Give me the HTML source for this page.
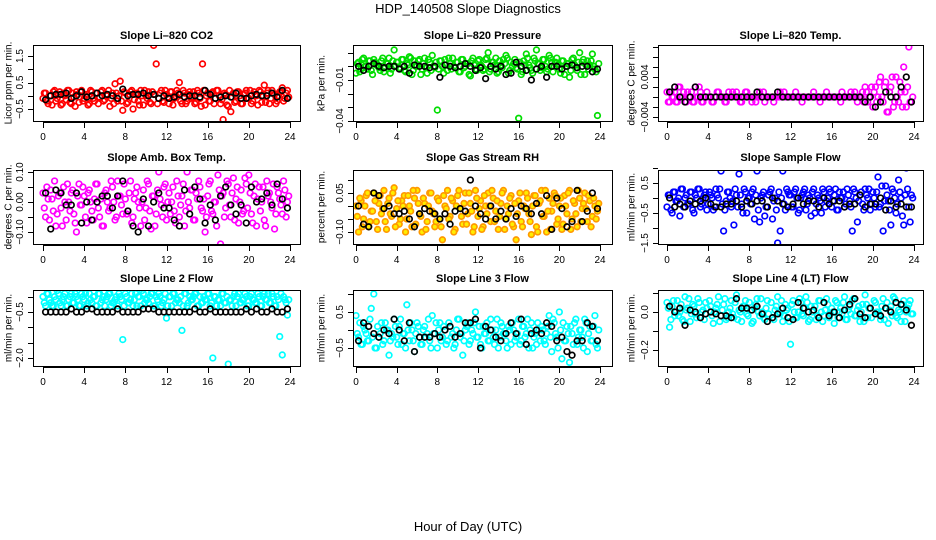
<!DOCTYPE html>
<html><head><meta charset="utf-8"><style>
html,body{margin:0;padding:0;background:#fff;}
svg{display:block;font-family:"Liberation Sans",sans-serif;}
</style></head><body>
<svg id="chart" width="936" height="540" viewBox="0 0 936 540" xmlns="http://www.w3.org/2000/svg">
<text x="468" y="13" font-size="13" text-anchor="middle">HDP_140508  Slope Diagnostics</text>
<text x="468" y="531" font-size="13" text-anchor="middle">Hour of Day (UTC)</text>
</svg>
<script>
const xTicks = [0,4,8,12,16,20,24];
const p1Color = [-0.1,0.1,-0.3,0.0,0.15,-0.2,0.05,-0.35,0.1,-0.15,0.2,-0.3,-0.05,0.15,-0.25,0.2,-0.1,0.05,-0.3,0.15,-0.2,0.1,-0.05,0.2,-0.15,0.0,-0.4,0.1,0.45,-0.2,0.55,-0.55,0.1,-0.25,0.15,-0.5,0.05,-0.2,0.2,-0.35,0.0,0.15,-0.3,1.9,1.2,-0.1,0.2,-0.25,0.05,-0.3,0.15,-0.1,0.2,0.5,-0.3,0.1,-0.2,0.15,-0.05,-0.3,0.2,-0.1,1.2,-0.35,0.1,-0.2,0.15,-0.1,0.2,-0.3,-0.9,0.05,-0.4,-0.6,0.1,-0.2,0.15,-0.3,0.05,0.2,-0.1,-0.3,0.15,0.0,0.2,-0.25,0.4,0.1,-0.3,0.2,0.05,-0.2,0.15,0.3,-0.1,0.2];
const p1ColorB = [0.1,-0.2,0.0,-0.35,0.2,-0.1,0.15,-0.3,0.0,0.2,-0.25,0.1,-0.4,0.05,0.15,-0.2,0.0,-0.35,0.2,-0.1,0.1,-0.3,0.15,-0.2,0.05,0.2,-0.1,-0.3,0.1,0.0,-0.2,0.15,-0.3,0.05,0.2,-0.15,0.1,-0.35,0.0,0.2,-0.1,-0.25,0.15,0.05,-0.3,0.1,-0.2,0.2,-0.05,0.15,-0.35,0.0,0.1,-0.2,0.2,-0.3,0.05,-0.1,0.15,-0.25,0.1,-0.4,0.2,0.0,-0.2,0.1,-0.3,0.2,0.0,-0.15,0.1,-0.35,0.2,-0.05,-0.25,0.15,0.0,-0.3,0.1,-0.1,0.2,-0.2,0.05,-0.35,0.15,0.0,-0.25,0.2,-0.1,0.1,-0.3,0.0,0.15,-0.2,0.1,-0.05];
const p1Black = [-0.15,0.0,0.05,0.05,0.1,-0.1,0.0,0.15,-0.05,0.0,0.1,0.0,0.05,0.0,-0.1,0.25,0.0,0.05,0.05,0.1,0.0,0.05,-0.1,0.0,-0.1,-0.05,0.05,-0.05,0.0,0.0,-0.05,0.2,0.05,-0.1,-0.05,0.0,-0.05,0.1,-0.1,-0.1,0.0,0.05,0.0,0.0,0.1,-0.05,0.2,-0.1];
const p2Color = [-5,3,-2,6,0,4,-3,5,1,-1,4,-4,2,6,-2,12,3,-1,5,-3,2,7,-6,4,0,5,-2,6,-5,3,8,-1,-32,4,0,5,-3,2,6,-1,3,-4,5,0,2,-7,6,-2,4,1,-3,5,10,-2,3,6,-4,1,5,8,-5,3,2,-1,-38,-6,4,9,1,-3,6,12,2,-1,5,-4,8,3,0,6,-2,4,-6,2,-8,5,1,-3,10,3,-6,4,1,9,-2,-36];
const p2ColorB = [2,-4,5,0,-2,4,-6,3,1,-3,6,-1,2,-5,4,0,3,-2,5,-4,1,6,-3,0,4,-6,2,-1,5,-3,0,3,-2,4,-5,1,6,-2,0,3,-4,5,-1,2,-6,4,1,-3,5,0,-2,6,-4,3,1,-5,4,-1,2,6,-3,0,5,-2,3,-4,1,6,-1,-5,4,2,-3,5,0,-2,6,-4,3,1,-5,4,0,2,-3,6,-1,3,-6,5,1,-2,4,0,-4,2];
const p2Black = [0,-3,0,2,0,-1,0,0,-2,0,-5,1,0,0,-1,0,-8,1,0,-1,0,2,0,-3,-1,-9,0,-2,0,-6,-5,3,0,-3,-10,-2,0,-8,0,0,-2,0,1,-1,0,0,-4,-2];
const p3Color = [1,-1,0,1,-1,2,0,-1,1,0,-1,2,0,1,-1,0,0,0,-1,0,1,0,0,-1,1,0,0,1,0,-1,0,1,0,-1,0,0,1,0,-1,0,0,0,0,0,1,0,0,0,0,0,1,0,0,0,0,0,0,1,0,0,0,0,1,0,0,0,0,0,1,0,0,0,0,1,-1,0,1,2,-1,0,-2,2,0,4,-1,3,-3,2,-2,4,-1,1,6,-2,10,-1];
const p3ColorB = [-1,1,0,-1,2,0,1,-1,0,1,-1,0,2,-1,0,1,0,-1,0,1,0,0,-1,0,0,1,0,0,-1,0,1,0,0,0,-1,0,0,1,0,0,0,-1,0,0,0,1,0,0,0,0,0,0,-1,0,0,0,0,0,0,-1,0,0,0,0,0,0,0,-1,0,0,0,1,0,0,0,0,-1,1,0,2,1,-1,3,0,2,-3,1,4,-1,0,3,-2,1,2,-1,0];
const p3Black = [1,2,0,-1,0,2,0,0,0,0,0,0,0,0,0,0,0,1,0,0,0,1,0,0,0,0,0,0,0,0,0,0,0,0,0,0,0,0,-1,0,-2,-1,1,0,0,2,4,-1];
const p4Color = [3,-5,1,4,-3,-8,2,-2,5,-6,0,3,-4,-10,6,-1,2,-7,4,-3,1,6,-5,-8,3,0,-2,5,-6,7,2,-4,1,-3,7,-5,3,0,-8,4,-2,6,-9,2,-4,10,-1,5,-6,3,0,-3,7,-5,2,-8,10,-2,4,-6,1,5,-3,-10,2,7,-4,0,9,-14,3,-2,6,-5,8,1,-7,4,-3,6,9,-4,2,-8,5,0,-6,7,3,-2,-9,5,1,-4,4,0];
const p4ColorB = [-2,5,-6,1,7,-4,3,-8,0,6,-3,4,-7,2,-1,5,-5,3,0,-6,6,-2,1,-8,4,-3,7,0,-5,2,-1,6,-4,3,-7,1,5,-2,0,-6,7,-3,2,-8,4,1,-5,6,0,-4,5,-7,2,-1,6,-3,0,4,-6,3,7,-2,1,-5,6,-3,0,-8,4,2,-5,7,-1,3,-6,5,0,-4,8,-2,3,-7,6,1,-3,5,-8,2,0,6,-4,3,-1,7,-5,2];
const p4Black = [3,-9,4,3,-1,-1,3,-7,0,-6,0,2,2,-2,2,7,-3,-8,-10,1,-8,0,3,-2,-2,-6,-8,4,-4,5,1,-7,-1,-6,2,5,-1,-4,-1,-7,5,0,1,3,-1,6,1,-2];
const p5Color = [0,-10,2,-5,4,-8,-2,5,-6,1,-3,6,-9,3,-4,7,-1,-7,2,4,-5,0,-8,3,6,-3,-10,1,-6,5,-2,-8,3,-5,-13,0,6,-4,2,-9,4,-1,-7,5,-3,1,-10,6,-4,2,-8,0,5,-6,3,-2,-9,1,6,-5,-3,4,-8,-13,2,-6,0,5,-3,-11,4,-8,1,6,-4,-10,3,-2,5,-7,0,-9,4,-3,6,-5,1,-8,3,-1,5,-6,2,-4,0,-2];
const p5ColorB = [-4,3,-8,0,5,-6,-2,2,-9,4,-1,-6,1,-3,5,-8,2,-5,0,-10,4,-2,6,-7,1,-4,3,-9,0,5,-3,-6,2,-8,4,-1,-5,3,-10,0,6,-4,1,-7,5,-2,-8,3,-1,-9,4,-3,0,6,-6,2,-4,5,-9,0,3,-7,1,-3,5,-8,-1,3,-6,0,4,-10,2,-4,6,-2,-9,1,4,-5,3,-7,0,5,-9,2,-3,6,-6,1,-1,4,-8,3,-5,1];
const p5Black = [0,-7,-8,5,4,-1,0,-3,-3,-2,-5,-8,-3,-1,-2,-3,-5,-3,-7,-2,-1,-2,10,0,-3,-5,0,-5,-2,-5,-1,-4,0,-1,-3,1,-3,4,-9,3,-1,-8,-6,6,-6,-2,5,-1];
const p6Color = [-3,1,-5,2,-1,-6,3,0,-2,2,-4,1,3,-3,0,2,-2,1,-4,3,0,9,-11,-1,2,-3,-9,1,8,-2,3,-5,0,2,-7,9,-8,1,-6,-3,2,-7,0,-15,-11,9,-4,2,1,-3,3,-5,0,2,-4,1,-6,3,-2,0,-5,2,-1,3,-3,1,-4,2,0,-3,3,-1,-11,2,-8,1,-2,3,0,-4,2,-3,7,-2,-11,4,-1,-9,2,-5,6,0,-9,10,-3,1];
const p6ColorB = [1,-4,2,-1,0,3,-3,1,-2,2,-5,0,3,-2,1,-4,2,0,-3,1,3,-2,-4,2,0,-1,3,-3,1,-5,2,0,-2,3,1,-4,0,2,-3,1,3,-1,-4,2,0,-2,3,1,-3,2,0,-4,1,3,-2,0,2,-5,1,-1,3,-3,0,2,-1,3,-4,0,2,-2,1,-3,3,0,-1,2,-4,1,3,-2,0,2,-3,4,-1,1,-4,3,0,-2,2,-6,1,3,-8,0];
const p6Black = [0,-3,-2,-3,-1,-2,-1,0,-2,-3,-3,-2,-2,-1,-3,-1,-2,-1,-1,-3,0,-1,-2,-3,-2,0,-2,-1,-1,-3,0,-2,-1,-1,-3,-2,-2,1,-3,-2,-2,0,-4,-1,-3,-2,-3,-3];
const p7Color = [0,-3,1,-2,-3,-1,1,-3,0,-3,-1,1,-2,0,-3,1,-1,-3,1,-2,0,-3,1,-1,-3,0,1,-2,-1,-3,0,-14,1,-2,-1,-3,1,0,-3,1,-1,-2,1,-3,0,1,-3,-1,-7,0,-3,1,-1,-2,-11,1,-3,0,-1,1,-3,0,-2,-1,1,-3,-20,0,-1,-3,1,-2,-22,-1,0,-3,1,-2,-1,0,-3,1,-1,-2,0,-3,1,-1,-2,1,-3,0,-13,-19,-1,-6];
const p7ColorB = [-2,1,-1,-3,0,2,-2,-1,1,-3,0,-2,1,-1,-3,0,1,-2,-1,0,-3,1,-2,0,-1,1,-3,-2,0,1,-1,-3,0,-2,1,-1,-3,0,2,-2,-1,0,1,-3,-1,0,-2,1,-3,0,1,-2,-1,0,-3,1,-2,-1,0,1,-3,-2,0,-1,1,-2,0,-3,-1,1,-2,0,-1,-3,1,0,-2,-1,1,-3,0,-1,-2,1,-3,0,-1,1,-2,0,-3,-1,1,0,-2,-1];
const p7Black = [-5,-5,-5,-5,-5,-4,-5,-5,-4,-4,-5,-5,-5,-5,-4,-5,-5,-5,-5,-4,-4,-4,-5,-5,-5,-5,-5,-5,-5,-4,-5,-5,-4,-5,-5,-5,-5,-5,-5,-4,-5,-4,-5,-5,-4,-5,-5,-4];
const p8Color = [4,-2,-4,1,-1,-3,6,10,-5,-2,2,-3,0,-7,-1,3,-2,1,-4,-1,7,-3,0,-6,2,-2,-4,1,-1,-3,4,-1,-5,2,-2,0,-3,1,-1,-4,3,-2,-7,0,2,-3,-1,5,-2,-4,1,-1,-3,3,-2,0,-5,2,-1,-3,1,-4,0,-2,3,-3,1,-1,-5,2,-2,-4,0,1,-3,-1,4,-6,2,-2,5,-8,-3,1,-9,-1,2,-4,0,-2,3,-6,1,-3,4,-5];
const p8ColorB = [-1,2,-4,0,-3,3,-2,-5,1,-1,-4,2,0,-3,-2,1,-4,3,-1,-5,0,2,-3,-1,1,-4,0,-2,3,-5,-1,2,0,-3,1,-4,2,-2,-5,0,3,-1,-3,1,-4,0,2,-2,1,-5,-1,2,-3,0,-4,3,-2,1,-1,-5,0,2,-3,-1,-4,1,-2,3,0,-5,-1,2,-3,0,-4,1,-2,3,-1,-5,0,2,-3,-1,1,-4,3,-2,0,-5,2,-1,-3,1,-4,0];
const p8Black = [-3,2,1,-1,-2,0,-1,3,0,-3,2,-6,-2,-2,-2,-1,-2,0,1,-2,-1,2,2,3,-5,1,0,-2,-3,-1,2,-1,3,-4,-1,0,-1,2,1,-3,-2,-6,-7,-3,-3,2,1,-3];
const p9Color = [5,-8,3,-2,6,0,-4,8,2,-5,4,-1,7,-3,1,5,-31,3,-6,2,8,-2,4,-4,0,6,-3,9,1,-5,3,-1,5,-6,2,7,-2,0,-4,6,15,-3,1,8,-1,-5,4,2,-17,6,-3,0,5,-2,8,-5,3,1,-4,6,0,-2,7,-3,2,-6,5,0,-1,8,-4,3,6,-2,1,-5,4,9,-3,2,-33,5,0,-4,7,2,-6,3,8,-2,1,-5,6,0,4,-1];
const p9ColorB = [2,-4,6,0,-2,4,-5,1,7,-1,3,-3,5,0,-4,2,6,-2,0,4,-5,1,7,-3,2,-1,5,-4,0,3,6,-2,1,-5,4,0,7,-3,2,-1,5,-4,3,0,6,-2,1,-5,4,0,-3,7,-1,2,5,-4,0,3,-2,6,-5,1,4,-1,0,6,-3,2,5,-4,1,-1,7,-2,3,0,-5,4,2,-3,6,0,-1,3,-4,5,1,-2,7,-3,0,4,-5,2,6,-1];
const p9Black = [3,0,2,-7,1,0,-3,-1,0,-1,-2,-2,-3,7,2,2,1,3,-1,-5,-3,-1,2,-3,-4,5,2,0,1,-3,5,-2,0,-3,1,4,7,-1,-3,2,-1,-2,2,0,5,4,1,-7];

const NS = "http://www.w3.org/2000/svg";
const svg = document.getElementById('chart');
const cols = [{l:33,r:300,x0:43,x24:290,tx:9},{l:353,r:612,x0:356,x24:600,tx:322},{l:658,r:923,x0:667,x24:914,tx:632}];
const rows = [{t:45,b:121,tt:39},{t:170,b:244,tt:161},{t:290,b:366,tt:282}];
const panels = [
 {name:'co2',title:'Slope Li\u2013820 CO2',yt:'Licor ppm per min.',c:0,r:0,col:'#ff0000',fill:'none',sc:1,v1:1.5,p1:56,v2:-0.5,p2:109,ticks:[-0.5,0,0.5,1,1.5],labels:[-0.5,0.5,1.5],dec:1,cd:p1Color,cd2:p1ColorB,bd:p1Black},
 {name:'pressure',title:'Slope Li\u2013820 Pressure',yt:'kPa per min.',c:1,r:0,col:'#00dd00',fill:'none',sc:0.001,v1:-0.01,p1:80,v2:-0.04,p2:121,ticks:[-0.04,-0.03,-0.02,-0.01,0,0.01],labels:[-0.04,-0.01],dec:2,cd:p2Color,cd2:p2ColorB,bd:p2Black},
 {name:'li820-temp',title:'Slope Li\u2013820 Temp.',yt:'degrees C per min.',c:2,r:0,col:'#ff00ff',fill:'none',sc:0.001,v1:0.004,p1:77,v2:-0.004,p2:117,ticks:[-0.004,-0.002,0,0.002,0.004,0.006,0.008,0.010],labels:[-0.004,0.004],dec:3,cd:p3Color,cd2:p3ColorB,bd:p3Black},
 {name:'amb-box-temp',title:'Slope Amb. Box Temp.',yt:'degrees C per min.',c:0,r:1,col:'#ff00ff',fill:'none',sc:0.01,v1:0.1,p1:172,v2:-0.1,p2:232,ticks:[-0.1,-0.05,0,0.05,0.1],labels:[-0.1,0,0.1],dec:2,cd:p4Color,cd2:p4ColorB,bd:p4Black},
 {name:'gas-stream-rh',title:'Slope Gas Stream RH',yt:'percent per min.',c:1,r:1,col:'#ff9900',fill:'#ffee00',sc:0.01,v1:0.05,p1:193,v2:-0.1,p2:232,ticks:[-0.1,-0.05,0,0.05,0.1],labels:[-0.1,0.05],dec:2,cd:p5Color,cd2:p5ColorB,bd:p5Black},
 {name:'sample-flow',title:'Slope Sample Flow',yt:'ml/min per min.',c:2,r:1,col:'#0000ff',fill:'none',sc:0.1,v1:0.5,p1:183,v2:-1.5,p2:243,ticks:[-1.5,-1,-0.5,0,0.5,1],labels:[-1.5,-0.5,0.5],dec:1,cd:p6Color,cd2:p6ColorB,bd:p6Black},
 {name:'line2-flow',title:'Slope Line 2 Flow',yt:'ml/min per min.',c:0,r:2,col:'#00ffff',fill:'none',sc:0.1,v1:-0.5,p1:312,v2:-2,p2:358,ticks:[-2,-1.5,-1,-0.5,0],labels:[-2,-0.5],dec:1,cd:p7Color,cd2:p7ColorB,bd:p7Black},
 {name:'line3-flow',title:'Slope Line 3 Flow',yt:'ml/min per min.',c:1,r:2,col:'#00ffff',fill:'none',sc:0.1,v1:0.5,p1:312,v2:-0.5,p2:348,ticks:[-0.5,0,0.5,1],labels:[-0.5,0.5],dec:1,cd:p8Color,cd2:p8ColorB,bd:p8Black},
 {name:'line4-flow',title:'Slope Line 4 (LT) Flow',yt:'ml/min per min.',c:2,r:2,col:'#00ffff',fill:'none',sc:0.01,v1:0,p1:312,v2:-0.2,p2:350,ticks:[-0.2,-0.1,0,0.1],labels:[-0.2,0],dec:1,cd:p9Color,cd2:p9ColorB,bd:p9Black}
];
function mk(tag, attrs, parent){const e=document.createElementNS(NS,tag);for(const k in attrs)e.setAttribute(k,attrs[k]);(parent||svg).appendChild(e);return e;}
function fmt(v,d){const s=Math.abs(v).toFixed(d);return (v<0?'\u2212':'')+s;}
panels.forEach(p=>{
  const C=cols[p.c], R=rows[p.r];
  const g=mk('g',{});
  
  
  const xs=h=>C.x0+(C.x24-C.x0)*h/24;
  const ys=v=>p.p1+(v-p.v1)*(p.p2-p.p1)/(p.v2-p.v1);
  const t=mk('text',{x:(C.l+C.r)/2,y:R.tt,'font-size':11,'font-weight':'bold','text-anchor':'middle'},g);
  t.textContent=p.title;
  
  
  const cy=(R.t+R.b)/2;
  const yt=mk('text',{x:C.tx,y:cy,'font-size':10,'text-anchor':'middle',transform:`rotate(-90 ${C.tx} ${cy})`,'dominant-baseline':'middle'},g);
  yt.textContent=p.yt;
  
  
  const cid='clip-'+p.name;
  const cp=mk('clipPath',{id:cid},g);
  mk('rect',{x:C.l,y:R.t,width:C.r-C.l,height:R.b-R.t},cp);
  const pts=mk('g',{'clip-path':`url(#${cid})`},g);
  
  
  p.cd.forEach((v,i)=>{
    const c=mk('circle',{cx:xs(i*0.25),cy:ys(v*p.sc),r:2.8,fill:p.fill,stroke:p.col,'stroke-width':1.7},pts);
    
    
  });
  p.cd2.forEach((v,i)=>{
    const c=mk('circle',{cx:xs(i*0.25+0.125),cy:ys(v*p.sc),r:2.8,fill:p.fill,stroke:p.col,'stroke-width':1.7},pts);
    
    
  });
  p.bd.forEach((v,i)=>{
    const c=mk('circle',{cx:xs(i*0.5+0.25),cy:ys(v*p.sc),r:2.8,fill:'none',stroke:'#000','stroke-width':1.7},pts);
    
    
  });
  const box=mk('rect',{x:C.l+0.5,y:R.t+0.5,width:C.r-C.l,height:R.b-R.t,fill:'none',stroke:'#000','stroke-width':1},g);
  
  
  p.ticks.forEach(v=>{const y=Math.round(ys(v))+0.5;mk('line',{x1:C.l-5,x2:C.l,y1:y,y2:y,stroke:'#000'},g);});
  p.labels.forEach(v=>{const y=ys(v),x=C.l-10;
    const l=mk('text',{x:x,y:y,'font-size':10,'text-anchor':'middle',transform:`rotate(-90 ${x} ${y})`},g);
    l.textContent=fmt(v,p.dec);
    
    
  });
  xTicks.forEach(h=>{const x=Math.round(xs(h))+0.5;mk('line',{x1:x,x2:x,y1:R.b+1,y2:R.b+7,stroke:'#000'},g);
    const l=mk('text',{x:xs(h),y:R.b+19,'font-size':10,'text-anchor':'middle'},g);
    l.textContent=h;
    
    
  });
  mk('line',{x1:xs(0),x2:xs(24),y1:R.b+1.5,y2:R.b+1.5,stroke:'#000'},g);
});
</script>
</body></html>
